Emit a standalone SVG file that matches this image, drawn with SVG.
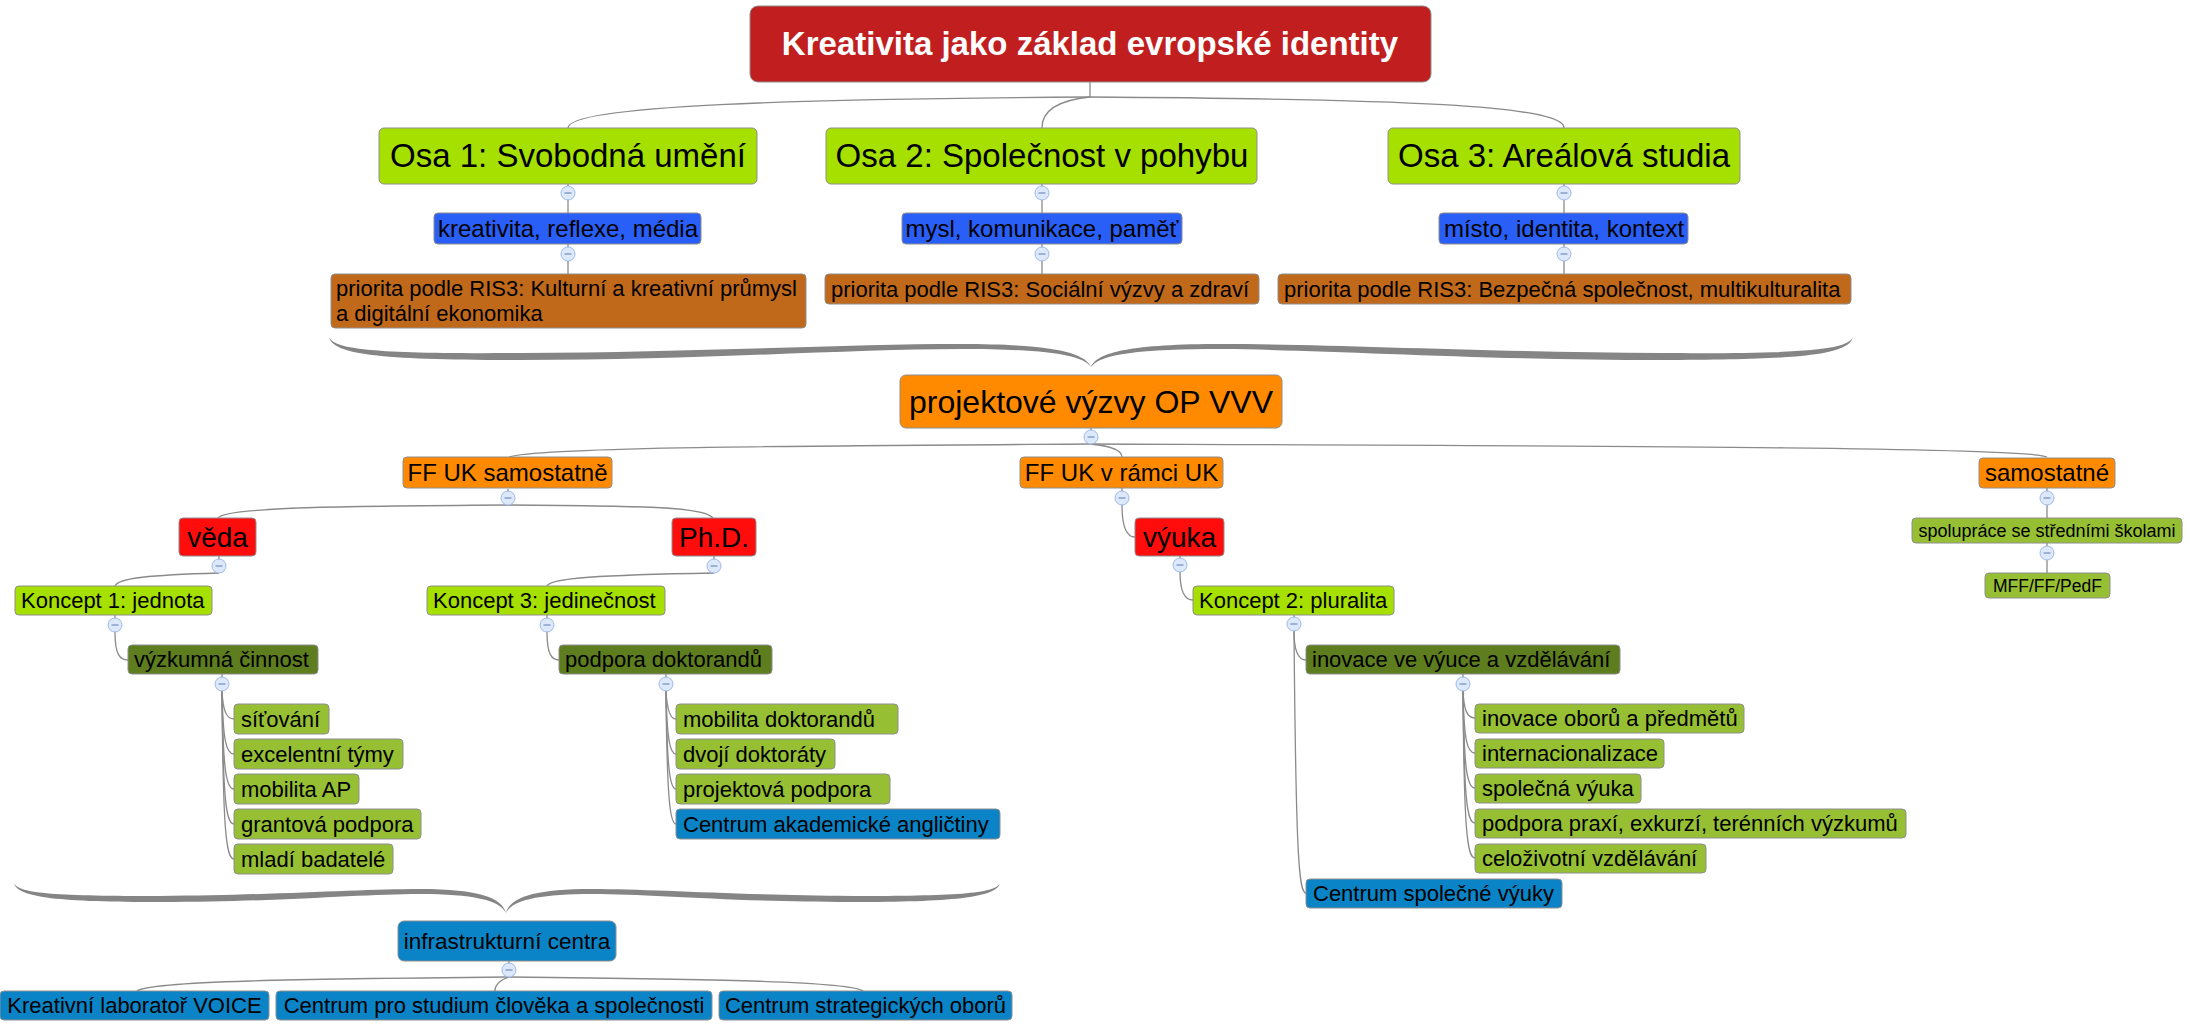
<svg xmlns="http://www.w3.org/2000/svg" width="2190" height="1025" viewBox="0 0 2190 1025">
<style>
  text { font-family: "Liberation Sans", Arial, sans-serif; fill: #000; text-anchor: middle; }
  text.l { text-anchor: start; }
  .b { stroke: #8e8e8e; stroke-width: 1; }
  .root { fill: #C11F1F; }
  .lime { fill: #A6E000; }
  .axis { fill: #2A5FF7; }
  .prio { fill: #C1691A; }
  .orng { fill: #FF8A00; }
  .red { fill: #FF0D0D; }
  .olive { fill: #5D7D1E; }
  .leaf { fill: #96BF34; }
  .cent { fill: #0A84C6; }
  .c { fill: none; stroke: #8a8a8a; stroke-width: 1.3; }
  .tgc { fill: #DEE8FB; stroke: #9DBBE8; stroke-width: 1; }
  .tgl { stroke: #6F8DBF; stroke-width: 1.2; }
  .brace { fill: #858585; }
  .f33 { font-size: 33px; }
  .f32 { font-size: 32px; }
  .f28 { font-size: 28px; }
  .f24 { font-size: 24px; }
  .f22 { font-size: 22px; }
</style>
<defs>
  <g id="tg"><circle class="tgc" cx="0" cy="0" r="7" fill="#DEE8FB" stroke="#9DBBE8"/><line class="tgl" x1="-3.5" y1="0" x2="3.5" y2="0" stroke="#6F8DBF"/></g>
</defs>

<g id="connectors">
  <path class="c" d="M1090,82 L1090,97"/>
  <path class="c" d="M1090,97 C800,99 568,105 568,128"/>
  <path class="c" d="M1090,97 C1060,100 1042,110 1042,128"/>
  <path class="c" d="M1090,97 C1400,99 1564,105 1564,128"/>
  <path class="c" d="M568,184 L568,274"/>
  <path class="c" d="M1042,184 L1042,274"/>
  <path class="c" d="M1564,184 L1564,274"/>
  <path class="c" d="M1091,428 L1091,444"/>
  <path class="c" d="M1091,444 C800,446 540,447 509,457"/>
  <path class="c" d="M1091,444 C1110,446 1122,450 1122,457"/>
  <path class="c" d="M1091,444 C1600,446 2030,447 2047,457"/>
  <path class="c" d="M508,489 L508,505"/>
  <path class="c" d="M508,505 C350,506 225,507 218,518"/>
  <path class="c" d="M508,505 C650,506 705,507 713,518"/>
  <path class="c" d="M219,556 L219,573"/>
  <path class="c" d="M219,573 C150,575 118,578 115,586"/>
  <path class="c" d="M714,556 L714,573"/>
  <path class="c" d="M714,573 C600,575 550,578 547,586"/>
  <path class="c" d="M115,615 L115,632 C115,655 120,660 128,660"/>
  <path class="c" d="M547,615 L547,632 C547,655 552,660 559,660"/>
  <path class="c" d="M222,674 L222,691"/>
  <path class="c" d="M222,691 C223,710 226,719 234,719"/>
  <path class="c" d="M222,691 C223,740 226,754 234,754"/>
  <path class="c" d="M222,691 C223,770 226,789 234,789"/>
  <path class="c" d="M222,691 C223,800 226,824 234,824"/>
  <path class="c" d="M222,691 C223,830 226,859 234,859"/>
  <path class="c" d="M666,674 L666,691"/>
  <path class="c" d="M666,691 C667,710 670,719 676,719"/>
  <path class="c" d="M666,691 C667,740 670,754 676,754"/>
  <path class="c" d="M666,691 C667,770 670,789 676,789"/>
  <path class="c" d="M666,691 C667,800 670,824 676,824"/>
  <path class="c" d="M1122,488 L1122,505 C1122,530 1128,537 1135,537"/>
  <path class="c" d="M1180,556 L1180,572 C1180,593 1186,600 1193,600"/>
  <path class="c" d="M1294,615 L1294,631 C1294,653 1299,660 1306,660"/>
  <path class="c" d="M1294,631 C1296,860 1299,893 1306,893"/>
  <path class="c" d="M1463,674 L1463,691"/>
  <path class="c" d="M1463,691 C1464,710 1467,718 1475,718"/>
  <path class="c" d="M1463,691 C1464,740 1467,753 1475,753"/>
  <path class="c" d="M1463,691 C1464,770 1467,788 1475,788"/>
  <path class="c" d="M1463,691 C1464,800 1467,823 1475,823"/>
  <path class="c" d="M1463,691 C1464,830 1467,858 1475,858"/>
  <path class="c" d="M2047,488 L2047,518"/>
  <path class="c" d="M2047,543 L2047,573"/>
  <path class="c" d="M509,961 L509,977"/>
  <path class="c" d="M509,977 C300,979 150,981 137,991"/>
  <path class="c" d="M509,977 C500,980 495,984 495,991"/>
  <path class="c" d="M509,977 C700,979 850,981 863,991"/>
</g>

<g id="braces">
  <path class="brace" d="M329,337 C334,350 380,354 520,353 C700,352 850,344 960,344 C1050,344 1085,352 1091,367 C1097,352 1132,344 1222,344 C1332,344 1482,352 1662,353 C1802,354 1848,350 1853,337 C1849,355 1800,360 1662,360 C1482,360 1332,350 1222,349 C1140,349 1100,354 1091,367 C1082,354 1042,349 960,349 C850,349 700,360 520,360 C382,360 333,355 329,337 Z"/>
  <path class="brace" d="M14,883 C18,894 60,896 160,896 C280,895 360,889 420,889 C480,889 502,898 506,913 C510,898 532,889 592,889 C652,889 732,895 852,896 C952,896 996,894 1000,883 C997,898 950,902 852,902 C732,902 652,894 592,894 C540,894 512,900 506,913 C500,900 472,894 420,894 C360,894 280,902 160,902 C62,902 17,898 14,883 Z"/>
</g>

<g id="n-root"><rect class="root b" x="750" y="6" width="681" height="76" rx="8"/><text x="1090" y="55" class="f33" style="font-weight:bold;fill:#fff">Kreativita jako základ evropské identity</text></g>

<g id="n-osa1"><rect class="lime b" x="379" y="128" width="378" height="56" rx="5"/><text x="568" y="167" class="f33">Osa 1: Svobodná umění</text></g>
<g id="n-osa2"><rect class="lime b" x="826" y="128" width="431" height="56" rx="5"/><text x="1042" y="167" class="f33">Osa 2: Společnost v pohybu</text></g>
<g id="n-osa3"><rect class="lime b" x="1388" y="128" width="352" height="56" rx="5"/><text x="1564" y="167" class="f33">Osa 3: Areálová studia</text></g>

<g id="n-ax1"><rect class="axis b" x="434" y="213" width="267" height="31" rx="4"/><text x="568" y="237" class="f24">kreativita, reflexe, média</text></g>
<g id="n-ax2"><rect class="axis b" x="902" y="213" width="280" height="31" rx="4"/><text x="1042" y="237" class="f24">mysl, komunikace, paměť</text></g>
<g id="n-ax3"><rect class="axis b" x="1439" y="213" width="249" height="31" rx="4"/><text x="1564" y="237" class="f24">místo, identita, kontext</text></g>

<g id="n-pr1"><rect class="prio b" x="331" y="274" width="475" height="54" rx="4"/><text x="336" y="296" class="f22 l">priorita podle RIS3: Kulturní a kreativní průmysl</text><text x="336" y="321" class="f22 l">a digitální ekonomika</text></g>
<g id="n-pr2"><rect class="prio b" x="825" y="274" width="434" height="30" rx="4"/><text x="831" y="297" class="f22 l">priorita podle RIS3: Sociální výzvy a zdraví</text></g>
<g id="n-pr3"><rect class="prio b" x="1278" y="274" width="573" height="30" rx="4"/><text x="1284" y="297" class="f22 l">priorita podle RIS3: Bezpečná společnost, multikulturalita</text></g>

<g id="n-proj"><rect class="orng b" x="900" y="375" width="382" height="53" rx="6"/><text x="1091" y="413" class="f32">projektové výzvy OP VVV</text></g>

<g id="n-ffs"><rect class="orng b" x="403" y="457" width="209" height="31" rx="4"/><text x="507.5" y="481" class="f24">FF UK samostatně</text></g>
<g id="n-ffr"><rect class="orng b" x="1020" y="457" width="203" height="31" rx="4"/><text x="1121.5" y="481" class="f24">FF UK v rámci UK</text></g>
<g id="n-sam"><rect class="orng b" x="1979" y="458" width="136" height="30" rx="4"/><text x="2047" y="481" class="f24">samostatné</text></g>

<g id="n-veda"><rect class="red b" x="179" y="518" width="77" height="38" rx="4"/><text x="217.5" y="547" class="f28">věda</text></g>
<g id="n-phd"><rect class="red b" x="672" y="518" width="84" height="38" rx="4"/><text x="714" y="547" class="f28">Ph.D.</text></g>
<g id="n-vyuka"><rect class="red b" x="1135" y="518" width="89" height="38" rx="4"/><text x="1179.5" y="547" class="f28">výuka</text></g>

<g id="n-spol"><rect class="leaf b" x="1912" y="518" width="270" height="25" rx="4"/><text x="2047" y="537" style="font-size:18px">spolupráce se středními školami</text></g>
<g id="n-mff"><rect class="leaf b" x="1985" y="573" width="125" height="25" rx="4"/><text x="2047.5" y="591.5" style="font-size:17.5px">MFF/FF/PedF</text></g>

<g id="n-k1"><rect class="lime b" x="15" y="586" width="197" height="29" rx="4"/><text x="21" y="608" class="f22 l">Koncept 1: jednota</text></g>
<g id="n-k3"><rect class="lime b" x="427" y="586" width="238" height="29" rx="4"/><text x="433" y="608" class="f22 l">Koncept 3: jedinečnost</text></g>
<g id="n-k2"><rect class="lime b" x="1193" y="586" width="201" height="29" rx="4"/><text x="1199" y="608" class="f22 l">Koncept 2: pluralita</text></g>

<g id="n-vyzk"><rect class="olive b" x="128" y="645" width="190" height="29" rx="4"/><text x="134" y="667" class="f22 l">výzkumná činnost</text></g>
<g id="n-podp"><rect class="olive b" x="559" y="645" width="213" height="29" rx="4"/><text x="565" y="667" class="f22 l">podpora doktorandů</text></g>
<g id="n-inov"><rect class="olive b" x="1306" y="645" width="314" height="29" rx="4"/><text x="1312" y="667" class="f22 l">inovace ve výuce a vzdělávání</text></g>

<g id="n-l1"><rect class="leaf b" x="234" y="704" width="95" height="30" rx="4"/><text x="241" y="726.5" class="f22 l">síťování</text></g>
<g id="n-l2"><rect class="leaf b" x="234" y="739" width="169" height="30" rx="4"/><text x="241" y="761.5" class="f22 l">excelentní týmy</text></g>
<g id="n-l3"><rect class="leaf b" x="234" y="774" width="125" height="30" rx="4"/><text x="241" y="796.5" class="f22 l">mobilita AP</text></g>
<g id="n-l4"><rect class="leaf b" x="234" y="809" width="187" height="30" rx="4"/><text x="241" y="831.5" class="f22 l">grantová podpora</text></g>
<g id="n-l5"><rect class="leaf b" x="234" y="844" width="159" height="30" rx="4"/><text x="241" y="866.5" class="f22 l">mladí badatelé</text></g>

<g id="n-d1"><rect class="leaf b" x="676" y="704" width="222" height="30" rx="4"/><text x="683" y="726.5" class="f22 l">mobilita doktorandů</text></g>
<g id="n-d2"><rect class="leaf b" x="676" y="739" width="159" height="30" rx="4"/><text x="683" y="761.5" class="f22 l">dvojí doktoráty</text></g>
<g id="n-d3"><rect class="leaf b" x="676" y="774" width="214" height="30" rx="4"/><text x="683" y="796.5" class="f22 l">projektová podpora</text></g>
<g id="n-d4"><rect class="cent b" x="676" y="809" width="324" height="30" rx="4"/><text x="683" y="831.5" class="f22 l">Centrum akademické angličtiny</text></g>

<g id="n-i1"><rect class="leaf b" x="1475" y="704" width="269" height="29" rx="4"/><text x="1482" y="726" class="f22 l">inovace oborů a předmětů</text></g>
<g id="n-i2"><rect class="leaf b" x="1475" y="739" width="189" height="29" rx="4"/><text x="1482" y="761" class="f22 l">internacionalizace</text></g>
<g id="n-i3"><rect class="leaf b" x="1475" y="774" width="166" height="29" rx="4"/><text x="1482" y="796" class="f22 l">společná výuka</text></g>
<g id="n-i4"><rect class="leaf b" x="1475" y="809" width="431" height="29" rx="4"/><text x="1482" y="831" class="f22 l">podpora praxí, exkurzí, terénních výzkumů</text></g>
<g id="n-i5"><rect class="leaf b" x="1475" y="844" width="231" height="29" rx="4"/><text x="1482" y="866" class="f22 l">celoživotní vzdělávání</text></g>
<g id="n-csv"><rect class="cent b" x="1306" y="879" width="256" height="29" rx="4"/><text x="1313" y="901" class="f22 l">Centrum společné výuky</text></g>

<g id="n-infra"><rect class="cent b" x="398" y="921" width="218" height="40" rx="6"/><text x="507" y="949" style="font-size:22.5px">infrastrukturní centra</text></g>
<g id="n-voice"><rect class="cent b" x="0" y="991" width="269" height="29" rx="4"/><text x="134.5" y="1013" class="f22">Kreativní laboratoř VOICE</text></g>
<g id="n-csc"><rect class="cent b" x="276" y="991" width="436" height="29" rx="4"/><text x="494" y="1013" class="f22">Centrum pro studium člověka a společnosti</text></g>
<g id="n-cso"><rect class="cent b" x="719" y="991" width="293" height="29" rx="4"/><text x="865.5" y="1013" class="f22">Centrum strategických oborů</text></g>

<g id="toggles">
  <use href="#tg" x="568" y="193"/><use href="#tg" x="568" y="254"/>
  <use href="#tg" x="1042" y="193"/><use href="#tg" x="1042" y="254"/>
  <use href="#tg" x="1564" y="193"/><use href="#tg" x="1564" y="254"/>
  <use href="#tg" x="1091" y="437"/>
  <use href="#tg" x="508" y="498"/><use href="#tg" x="1122" y="498"/><use href="#tg" x="2047" y="498"/>
  <use href="#tg" x="219" y="566"/><use href="#tg" x="714" y="566"/><use href="#tg" x="1180" y="565"/>
  <use href="#tg" x="2047" y="553"/>
  <use href="#tg" x="115" y="625"/><use href="#tg" x="547" y="625"/><use href="#tg" x="1294" y="624"/>
  <use href="#tg" x="222" y="684"/><use href="#tg" x="666" y="684"/><use href="#tg" x="1463" y="684"/>
  <use href="#tg" x="509" y="970"/>
</g>
</svg>
